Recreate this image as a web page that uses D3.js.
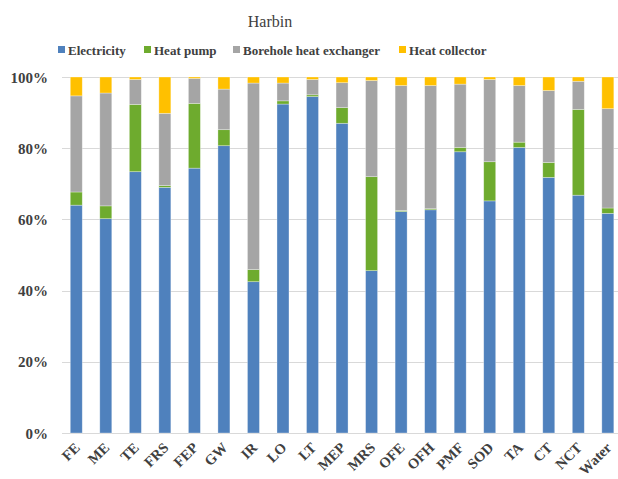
<!DOCTYPE html>
<html>
<head>
<meta charset="utf-8">
<script src="https://cdn.jsdelivr.net/npm/d3@7"></script>
<style>
  body { margin: 0; background: #fff; }
</style>
</head>
<body>
<div id="main"></div>
<script>
const ctx = { w: 618, h: 479 };
const margin = { top: 77, right: 0, bottom: 46, left: 62 };
const FONT = "'Liberation Serif', 'Times New Roman', serif";

// categories and series (percent shares)
const categories = ['FE', 'ME', 'TE', 'FRS', 'FEP', 'GW', 'IR', 'LO', 'LT', 'MEP',
    'MRS', 'OFE', 'OFH', 'PMF', 'SOD', 'TA', 'CT', 'NCT', 'Water'];
const seriesNames = ['Electricity', 'Heat pump', 'Borehole heat exchanger', 'Heat collector'];
const electricity = [64.0, 60.2, 73.4, 69.0, 74.4, 80.7, 42.5, 92.4, 94.5, 87.0,
    45.6, 62.2, 62.7, 79.0, 65.2, 80.2, 71.8, 66.8, 61.7];
const heatPump = [3.7, 3.6, 18.9, 0.5, 18.2, 4.5, 3.4, 0.9, 0.5, 4.4,
    26.4, 0.3, 0.3, 1.2, 11.0, 1.5, 4.2, 24.1, 1.5];
const borehole = [27.0, 31.7, 7.0, 20.3, 7.0, 11.4, 52.4, 5.0, 4.3, 7.0,
    27.0, 35.1, 34.6, 17.8, 23.1, 15.9, 20.2, 7.9, 27.9];
const collector = [5.3, 4.5, 0.7, 10.2, 0.4, 3.4, 1.7, 1.7, 0.7, 1.6,
    1.0, 2.4, 2.4, 2.0, 0.7, 2.4, 3.8, 1.2, 8.9];
const yTicks = [0, 20, 40, 60, 80, 100];
const colors = ['#4F81BD', '#6EAB2E', '#A5A5A5', '#FFC000'];

const rows = categories.map((c, i) => ({
    cat: c,
    'Electricity': electricity[i],
    'Heat pump': heatPump[i],
    'Borehole heat exchanger': borehole[i],
    'Heat collector': collector[i]
}));

const svg = d3.select("#main").append("svg")
    .attr("width", ctx.w)
    .attr("height", ctx.h)
    .attr("font-family", FONT);

const x = d3.scaleBand()
    .domain(categories)
    .range([margin.left - 0.5, 622.6])
    .paddingInner(0.594)
    .paddingOuter(0.297);

const y = d3.scaleLinear()
    .domain([0, 100])
    .range([ctx.h - margin.bottom, margin.top]);

// gridlines
svg.append("g")
    .selectAll("line")
    .data(yTicks)
    .enter().append("line")
    .attr("x1", margin.left)
    .attr("x2", ctx.w)
    .attr("y1", d => Math.round(y(d)) + 0.5)
    .attr("y2", d => Math.round(y(d)) + 0.5)
    .attr("stroke", "#d9d9d9")
    .attr("stroke-width", 1);

// y labels
svg.append("g")
    .selectAll("text")
    .data(yTicks)
    .enter().append("text")
    .attr("x", 48)
    .attr("y", d => y(d) + 5.5)
    .attr("text-anchor", "end")
    .style("font-family", FONT)
    .style("font-size", "15px")
    .style("font-weight", "bold")
    .style("fill", "#404040")
    .text(d => d + "%");

// stacked bars
const stack = d3.stack().keys(seriesNames);
const layers = stack(rows);

svg.append("g")
    .selectAll("g")
    .data(layers)
    .enter().append("g")
    .attr("fill", (d, i) => colors[i])
    .selectAll("rect")
    .data(d => d)
    .enter().append("rect")
    .attr("x", d => x(d.data.cat))
    .attr("y", d => y(d[1]))
    .attr("width", x.bandwidth())
    .attr("height", d => y(d[0]) - y(d[1]))
    .attr("stroke", "rgba(255,255,255,0.45)")
    .attr("stroke-width", 0.7);

// x labels, rotated
svg.append("g")
    .selectAll("text")
    .data(categories)
    .enter().append("text")
    .attr("transform", d => `translate(${x(d) + x.bandwidth() / 2 + 1},${ctx.h - margin.bottom + 12}) rotate(-45)`)
    .attr("text-anchor", "end")
    .attr("dy", "0.35em")
    .style("font-family", FONT)
    .style("font-size", "14.5px")
    .style("font-weight", "bold")
    .style("fill", "#404040")
    .text(d => d);

// title
svg.append("text")
    .attr("x", 270)
    .attr("y", 27)
    .attr("text-anchor", "middle")
    .style("font-family", FONT)
    .style("font-size", "16px")
    .style("fill", "#404040")
    .text("Harbin");

// legend
const legendX = [58, 144, 233, 399];
const legend = svg.append("g")
    .selectAll("g")
    .data(seriesNames)
    .enter().append("g")
    .attr("transform", (d, i) => `translate(${legendX[i]},46)`);

legend.append("rect")
    .attr("width", 7)
    .attr("height", 7)
    .attr("fill", (d, i) => colors[i]);

legend.append("text")
    .attr("x", 10)
    .attr("y", 8.5)
    .style("font-family", FONT)
    .style("font-size", "13px")
    .style("font-weight", "bold")
    .style("fill", "#404040")
    .text(d => d);
</script>
</body>
</html>
